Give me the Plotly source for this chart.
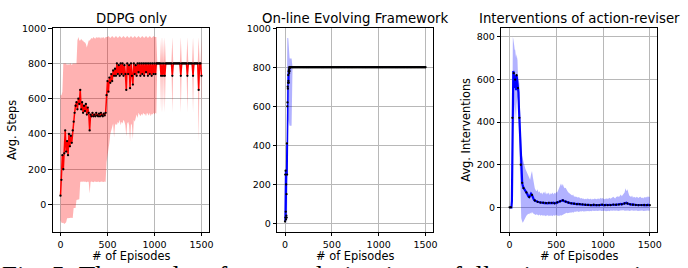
import plotly.graph_objects as go

# ---------------- data ----------------
EP1 = list(range(0, 1501, 10))
DDPG_MEAN = [
    50, 140, 280, 200, 290, 420, 300, 360, 280, 400,
    330, 390, 350, 420, 470, 520, 560, 580, 540, 600,
    570, 650, 540, 580, 520, 560, 530, 570, 510, 550,
    520, 420, 510, 500, 520, 500, 510, 500, 520, 505,
    500, 515, 500, 520, 505, 500, 515, 505, 520, 620,
    700, 640, 720, 690, 740, 700, 760, 730, 770, 730,
    800, 740, 790, 730, 800, 740, 800, 730, 790, 740,
    650, 800, 740, 790, 660, 800, 730, 680, 800, 740,
    790, 730, 800, 750, 800, 730, 800, 740, 800, 730,
    800, 750, 800, 730, 800, 740, 800, 730, 800, 740,
    800, 740, 800, 800, 800, 800, 800, 730, 800, 730,
    800, 730, 800, 800, 800, 800, 800, 800, 800, 730,
    800, 800, 800, 800, 800, 800, 800, 800, 730, 800,
    800, 800, 800, 800, 800, 730, 800, 800, 800, 800,
    800, 730, 800, 800, 800, 800, 800, 650, 800, 800,
    730,
]
DDPG_UPPER = [
    620, 620, 640, 800, 800, 800, 800, 790, 800, 790,
    800, 800, 790, 800, 800, 800, 800, 800, 930, 950,
    930, 930, 940, 930, 930, 920, 920, 910, 890, 920,
    930, 930, 940, 945, 940, 950, 945, 940, 950, 945,
    950, 945, 950, 940, 950, 945, 950, 940, 950, 950,
    950, 955, 950, 945, 950, 955, 950, 945, 950, 955,
    950, 945, 950, 955, 950, 945, 950, 955, 950, 945,
    950, 955, 950, 945, 950, 955, 950, 945, 950, 955,
    950, 945, 950, 955, 950, 945, 950, 955, 950, 945,
    950, 955, 950, 945, 950, 955, 950, 945, 950, 955,
    950, 950, 950, 800, 800, 800, 800, 950, 800, 950,
    800, 950, 800, 800, 800, 800, 800, 800, 800, 950,
    800, 800, 800, 800, 800, 800, 800, 800, 950, 800,
    800, 800, 800, 800, 800, 950, 800, 800, 800, 800,
    800, 950, 800, 800, 800, 800, 800, 950, 800, 800,
    950,
]
DDPG_LOWER = [
    -90, -104, -105, -104, -110, -104, -100, -78, -76, -78,
    -76, -75, -74, -76, -20, -22, -20, 26, 25, 28,
    30, 128, 130, 128, 132, 128, 130, 128, 126, 130,
    128, 63, 128, 130, 128, 126, 130, 128, 130, 128,
    130, 128, 126, 130, 128, 130, 128, 130, 128, 239,
    270, 300, 350, 400, 420, 450, 460, 380, 450, 460,
    450, 470, 460, 480, 450, 470, 460, 480, 470, 450,
    385, 460, 470, 450, 360, 460, 450, 370, 480, 470,
    500, 510, 490, 520, 510, 500, 515, 505, 520, 510,
    515, 500, 520, 510, 505, 520, 500, 515, 510, 520,
    510, 520, 515, 800, 800, 800, 800, 520, 800, 520,
    800, 520, 800, 800, 800, 800, 800, 800, 800, 520,
    800, 800, 800, 800, 800, 800, 800, 800, 520, 800,
    800, 800, 800, 800, 800, 520, 800, 800, 800, 800,
    800, 520, 800, 800, 800, 800, 800, 350, 800, 800,
    520,
]

EP2 = list(range(0, 61, 2)) + list(range(70, 1501, 10))
EVO_MEAN = [
    10, 250, 30, 270, 60, 20, 200, 40, 150, 30,
    410, 250, 600, 620, 700, 690, 720, 760, 730, 780,
    720, 790, 770, 800, 780, 800, 800, 800, 800, 800, 800,
] + [
    800, 800, 800, 800, 800, 800, 800, 800, 800, 800, 800, 800,
    800, 800, 800, 800, 800, 800, 800, 800, 800, 800, 800, 800,
    800, 800, 800, 800, 800, 800, 800, 800, 800, 800, 800, 800,
    800, 800, 800, 800, 800, 800, 800, 800, 800, 800, 800, 800,
    800, 800, 800, 800, 800, 800, 800, 800, 800, 800, 800, 800,
    800, 800, 800, 800, 800, 800, 800, 800, 800, 800, 800, 800,
    800, 800, 800, 800, 800, 800, 800, 800, 800, 800, 800, 800,
    800, 800, 800, 800, 800, 800, 800, 800, 800, 800, 800, 800,
    800, 800, 800, 800, 800, 800, 800, 800, 800, 800, 800, 800,
    800, 800, 800, 800, 800, 800, 800, 800, 800, 800, 800, 800,
    800, 800, 800, 800, 800, 800, 800, 800, 800, 800, 800, 800,
    800, 800, 800, 800, 800, 800, 800, 800, 800, 800, 800, 800,
]
EVO_UPPER = [
    20, 270, 60, 290, 100, 60, 250, 100, 950, 950,
    950, 950, 950, 950, 950, 950, 950, 950, 940, 900,
    880, 870, 860, 850, 850, 845, 845, 845, 845, 845, 845,
] + [845] + [
    800, 800, 800, 800, 800, 800, 800, 800, 800, 800, 800,
    800, 800, 800, 800, 800, 800, 800, 800, 800, 800, 800, 800, 800,
    800, 800, 800, 800, 800, 800, 800, 800, 800, 800, 800, 800,
    800, 800, 800, 800, 800, 800, 800, 800, 800, 800, 800, 800,
    800, 800, 800, 800, 800, 800, 800, 800, 800, 800, 800, 800,
    800, 800, 800, 800, 800, 800, 800, 800, 800, 800, 800, 800,
    800, 800, 800, 800, 800, 800, 800, 800, 800, 800, 800, 800,
    800, 800, 800, 800, 800, 800, 800, 800, 800, 800, 800, 800,
    800, 800, 800, 800, 800, 800, 800, 800, 800, 800, 800, 800,
    800, 800, 800, 800, 800, 800, 800, 800, 800, 800, 800, 800,
    800, 800, 800, 800, 800, 800, 800, 800, 800, 800, 800, 800,
    800, 800, 800, 800, 800, 800, 800, 800, 800, 800, 800, 800,
]
EVO_LOWER = [
    0, 230, 0, 250, 20, 0, 150, 0, 0, 0,
    0, 0, 200, 300, 450, 430, 500, 520, 500, 530,
    500, 500, 500, 500, 500, 500, 500, 500, 500, 500, 500,
] + [500] + [
    800, 800, 800, 800, 800, 800, 800, 800, 800, 800, 800,
    800, 800, 800, 800, 800, 800, 800, 800, 800, 800, 800, 800, 800,
    800, 800, 800, 800, 800, 800, 800, 800, 800, 800, 800, 800,
    800, 800, 800, 800, 800, 800, 800, 800, 800, 800, 800, 800,
    800, 800, 800, 800, 800, 800, 800, 800, 800, 800, 800, 800,
    800, 800, 800, 800, 800, 800, 800, 800, 800, 800, 800, 800,
    800, 800, 800, 800, 800, 800, 800, 800, 800, 800, 800, 800,
    800, 800, 800, 800, 800, 800, 800, 800, 800, 800, 800, 800,
    800, 800, 800, 800, 800, 800, 800, 800, 800, 800, 800, 800,
    800, 800, 800, 800, 800, 800, 800, 800, 800, 800, 800, 800,
    800, 800, 800, 800, 800, 800, 800, 800, 800, 800, 800, 800,
    800, 800, 800, 800, 800, 800, 800, 800, 800, 800, 800, 800,
]

EP3 = list(range(0, 150, 5)) + list(range(150, 1501, 10))
AR_MEAN = [
    0, 0, 0, 0, 0, 30, 420, 600, 640, 630,
    560, 620, 600, 560, 550, 620, 600, 610, 560, 540,
    470, 420, 360, 280, 200, 150, 130, 115, 105, 95,
    90, 84, 78, 70, 62, 52, 48, 55, 64, 58,
    42, 36, 32, 29, 27, 26, 25, 24, 22, 23,
    21, 22, 20, 21, 20, 22, 19, 21, 20, 22,
    21, 20, 22, 19, 21, 20, 23, 24, 26, 28,
    30, 32, 33, 30, 28, 27, 25, 24, 22, 21,
    20, 19, 18, 19, 17, 18, 16, 15, 16, 14,
    15, 14, 13, 14, 12, 13, 12, 11, 12, 11,
    12, 11, 10, 11, 10, 12, 10, 11, 10, 12,
    11, 10, 12, 11, 13, 12, 11, 10, 12, 11,
    10, 11, 12, 10, 11, 12, 13, 12, 11, 12,
    13, 14, 13, 15, 16, 14, 15, 17, 18, 20,
    22, 18, 16, 15, 14, 13, 14, 12, 13, 12,
    11, 12, 11, 10, 11, 12, 10, 11, 10, 11,
    10, 11, 10, 12, 10, 10,
]
AR_UPPER = [
    0, 0, 0, 0, 0, 60, 780, 800, 790, 780,
    760, 740, 740, 720, 700, 720, 700, 690, 620, 600,
    590, 580, 480, 400, 330, 280, 250, 240, 230, 210,
    200, 195, 180, 170, 160, 150, 140, 130, 155, 170,
    140, 110, 90, 80, 75, 85, 70, 75, 65, 70,
    60, 72, 65, 75, 60, 68, 62, 70, 58, 66,
    62, 70, 60, 68, 64, 72, 70, 80, 90, 105,
    112, 100, 110, 95, 90, 92, 80, 75, 70, 65,
    62, 58, 55, 60, 50, 52, 48, 50, 45, 48,
    45, 42, 44, 40, 42, 38, 40, 38, 42, 40,
    40, 38, 42, 36, 40, 38, 42, 40, 38, 40,
    42, 38, 45, 40, 44, 42, 40, 38, 42, 40,
    40, 42, 45, 40, 44, 46, 50, 45, 42, 48,
    50, 52, 48, 55, 60, 52, 58, 62, 70, 90,
    75, 85, 60, 55, 52, 48, 55, 45, 50, 48,
    45, 50, 46, 44, 48, 50, 44, 46, 42, 48,
    45, 50, 46, 52, 48, 50,
]
AR_LOWER = [
    0, 0, 0, 0, 0, 0, 100, 420, 480, 500,
    380, 480, 460, 420, 400, 480, 500, 520, 500, 480,
    350, 250, 150, 50, -20, -50, -60, -70, -72, -70,
    -65, -60, -50, -40, -35, -30, -32, -25, -30, -22,
    -28, -30, -34, -36, -32, -35, -38, -34, -40, -36,
    -38, -40, -36, -42, -38, -40, -36, -42, -38, -40,
    -38, -42, -36, -40, -38, -35, -40, -38, -42, -36,
    -40, -38, -35, -32, -30, -28, -26, -28, -25, -26,
    -24, -26, -22, -25, -22, -20, -22, -18, -20, -22,
    -20, -18, -20, -17, -19, -18, -20, -16, -18, -17,
    -18, -16, -17, -18, -15, -17, -16, -18, -16, -17,
    -16, -18, -15, -17, -16, -15, -17, -16, -18, -16,
    -17, -16, -18, -15, -17, -16, -15, -17, -16, -15,
    -16, -15, -17, -15, -14, -16, -15, -14, -16, -15,
    -14, -16, -15, -17, -15, -16, -14, -16, -15, -17,
    -16, -15, -17, -16, -15, -14, -16, -15, -17, -16,
    -15, -16, -14, -15, -16, -15,
]

TITLES = ["DDPG only", "On-line Evolving Framework", "Interventions of action-reviser"]
X_LABEL = "# of Episodes"
Y_LABELS = ["Avg. Steps", None, "Avg. Interventions"]
X_TICKS = [0, 500, 1000, 1500]
Y_TICKS_A = [0, 200, 400, 600, 800, 1000]
Y_TICKS_C = [0, 200, 400, 600, 800]
CAPTION = "Fig. 5: The results of our evolution in car following scenarios"

# ---------------- figure ----------------
W, H = 688, 268
FONT = "DejaVu Sans"
fig = go.Figure()

panels = [
    (EP1, DDPG_MEAN, DDPG_LOWER, DDPG_UPPER, "#ff0000", "rgba(255,0,0,0.3)", "x", "y", 1.5, None),
    (EP2, EVO_MEAN, EVO_LOWER, EVO_UPPER, "#0000ff", "rgba(0,0,255,0.3)", "x2", "y2", 1.5, None),
    (EP3, AR_MEAN, AR_LOWER, AR_UPPER, "#0000ff", "rgba(0,0,255,0.3)", "x3", "y3", 2.2, 70),
]
for xs, mean, lo, hi, col, fillc, xa, ya, lw, maxd in panels:
    fig.add_trace(go.Scatter(x=xs, y=lo, mode="lines", line=dict(width=0, color=fillc),
                             showlegend=False, hoverinfo="skip", xaxis=xa, yaxis=ya))
    fig.add_trace(go.Scatter(x=xs, y=hi, mode="lines", line=dict(width=0, color=fillc),
                             fill="tonexty", fillcolor=fillc,
                             showlegend=False, hoverinfo="skip", xaxis=xa, yaxis=ya))
    mk = dict(color="black", size=2.3)
    if maxd:
        mk["maxdisplayed"] = maxd
    fig.add_trace(go.Scatter(x=xs, y=mean, mode="lines+markers",
                             line=dict(color=col, width=lw), marker=mk,
                             showlegend=False, xaxis=xa, yaxis=ya))

px_x = [(53, 211), (279.3, 436), (505, 662)]
y_dom = [1 - 231 / H, 1 - 22.7 / H]
y_ranges = [[-155, 1000], [-43, 1000], [-115, 841]]
x_ranges = [[-84, 1585], [-83, 1578], [-88, 1579]]
y_ticks = [Y_TICKS_A, Y_TICKS_A, Y_TICKS_C]

common = dict(showline=True, linecolor="black", linewidth=1, mirror=True,
              ticks="outside", ticklen=3.5, tickwidth=1, tickcolor="black",
              showgrid=True, gridcolor="#b8b8b8", gridwidth=1, zeroline=False,
              tickfont=dict(family=FONT, size=9.5, color="black"))

for i in range(3):
    sfx = "" if i == 0 else str(i + 1)
    fig.layout["xaxis" + sfx] = dict(domain=[px_x[i][0] / W, px_x[i][1] / W],
                                      range=x_ranges[i], anchor="y" + sfx,
                                      tickvals=X_TICKS, ticktext=[str(t) for t in X_TICKS],
                                      **common)
    fig.layout["yaxis" + sfx] = dict(domain=y_dom, range=y_ranges[i], anchor="x" + sfx,
                                      tickvals=y_ticks[i], ticktext=[str(t) for t in y_ticks[i]],
                                      **common)

ann = []
for i in range(3):
    cx = (px_x[i][0] + px_x[i][1]) / 2 / W
    ann.append(dict(text=TITLES[i], x=cx, y=1 - 12.5 / H, xref="paper", yref="paper",
                    xanchor="center", yanchor="middle", showarrow=False,
                    font=dict(family=FONT, size=13.3, color="black")))
    ann.append(dict(text=X_LABEL, x=cx, y=1 - 255.5 / H, xref="paper", yref="paper",
                    xanchor="center", yanchor="middle", showarrow=False,
                    font=dict(family=FONT, size=11.4, color="black")))
ann.append(dict(text=Y_LABELS[0], x=12 / W, y=1 - 127 / H, xref="paper", yref="paper",
                xanchor="center", yanchor="middle", textangle=-90, showarrow=False,
                font=dict(family=FONT, size=11.4, color="black")))
ann.append(dict(text=Y_LABELS[2], x=470 / W, y=1 - 127 / H, xref="paper", yref="paper",
                xanchor="center", yanchor="middle", textangle=-90, showarrow=False,
                font=dict(family=FONT, size=11.4, color="black")))
ann.append(dict(text=CAPTION, x=0, y=1 - 258.5 / H, xref="paper", yref="paper",
                xanchor="left", yanchor="top", showarrow=False,
                font=dict(family="Liberation Serif", size=27, color="black")))

fig.update_layout(width=W, height=H, margin=dict(l=0, r=0, t=0, b=0),
                  paper_bgcolor="white", plot_bgcolor="white",
                  annotations=ann, showlegend=False)

fig.write_html("out.html", config={"displayModeBar": False},
               post_script="document.body.style.margin='0';document.body.style.overflow='hidden';")
